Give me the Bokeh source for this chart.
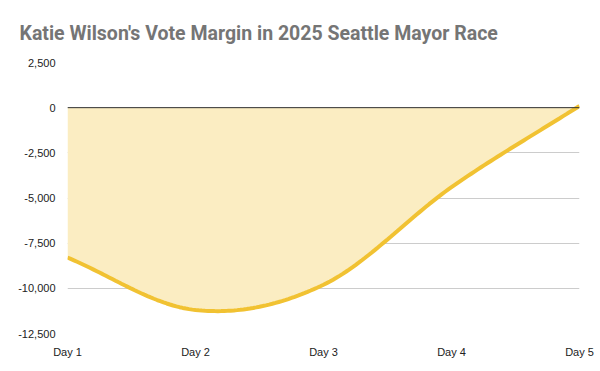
from bokeh.plotting import figure
from bokeh.models import FixedTicker, NumeralTickFormatter, Span, Range1d
from bokeh.embed import file_html
from bokeh.resources import INLINE
import numpy as np

days = ["Day 1", "Day 2", "Day 3", "Day 4", "Day 5"]
margin = [-8300, -11200, -9800, -4400, 100]
y_ticks = [-12500, -10000, -7500, -5000, -2500, 0, 2500]
title = "Katie Wilson's Vote Margin in 2025 Seattle Mayor Race"

xs = np.arange(len(days), dtype=float)
ys = np.array(margin, dtype=float)

# smooth rendering of the line (cubic Hermite / Catmull-Rom through the data points)
n = len(xs)
m = np.zeros(n)
for i in range(n):
    if i == 0:
        m[i] = ys[1] - ys[0]
    elif i == n - 1:
        m[i] = ys[-1] - ys[-2]
    else:
        m[i] = (ys[i + 1] - ys[i - 1]) / 2.0
cx, cy = [], []
for i in range(n - 1):
    t = np.linspace(0, 1, 40, endpoint=(i == n - 2))
    h00 = 2 * t**3 - 3 * t**2 + 1
    h10 = t**3 - 2 * t**2 + t
    h01 = -2 * t**3 + 3 * t**2
    h11 = t**3 - t**2
    cx.extend(xs[i] + t)
    cy.extend(h00 * ys[i] + h10 * m[i] + h01 * ys[i + 1] + h11 * m[i + 1])

p = figure(width=600, height=371, output_backend="svg", toolbar_location=None,
           x_range=Range1d(0, 4), y_range=Range1d(-12500, 2500),
           min_border_left=67, min_border_right=21, min_border_top=62, min_border_bottom=38,
           title=title)
p.outline_line_color = None
p.background_fill_color = "white"
p.border_fill_color = "white"

p.title.text_font = "Roboto"
p.title.text_font_style = "bold"
p.title.text_font_size = "19.5px"
p.title.text_color = "#757575"
p.title.align = "left"
p.title.vertical_align = "bottom"
p.title.offset = -48
p.title.standoff = 36

p.varea(x=cx, y1=cy, y2=0, fill_color="#fbedc2", fill_alpha=1.0)
p.add_layout(Span(location=0, dimension="width", line_color="#333333", line_width=1))
p.line(cx, cy, line_color="#f1c232", line_width=4)

p.xgrid.grid_line_color = None
p.ygrid.grid_line_color = "#cccccc"
p.ygrid.ticker = FixedTicker(ticks=y_ticks)

p.xaxis.ticker = FixedTicker(ticks=list(xs))
p.xaxis.major_label_overrides = {i: d for i, d in enumerate(days)}
p.yaxis.ticker = FixedTicker(ticks=y_ticks)
p.yaxis.formatter = NumeralTickFormatter(format="0,0")
for ax in (p.xaxis, p.yaxis):
    ax.axis_line_color = None
    ax.major_tick_line_color = None
    ax.minor_tick_line_color = None
    ax.major_label_text_font = "Liberation Sans"
    ax.major_label_text_font_size = "11px"
    ax.major_label_text_color = "#222222"
p.xaxis.major_label_standoff = 6
p.yaxis.major_label_standoff = 6

open("out.html", "w").write(file_html(p, INLINE))
